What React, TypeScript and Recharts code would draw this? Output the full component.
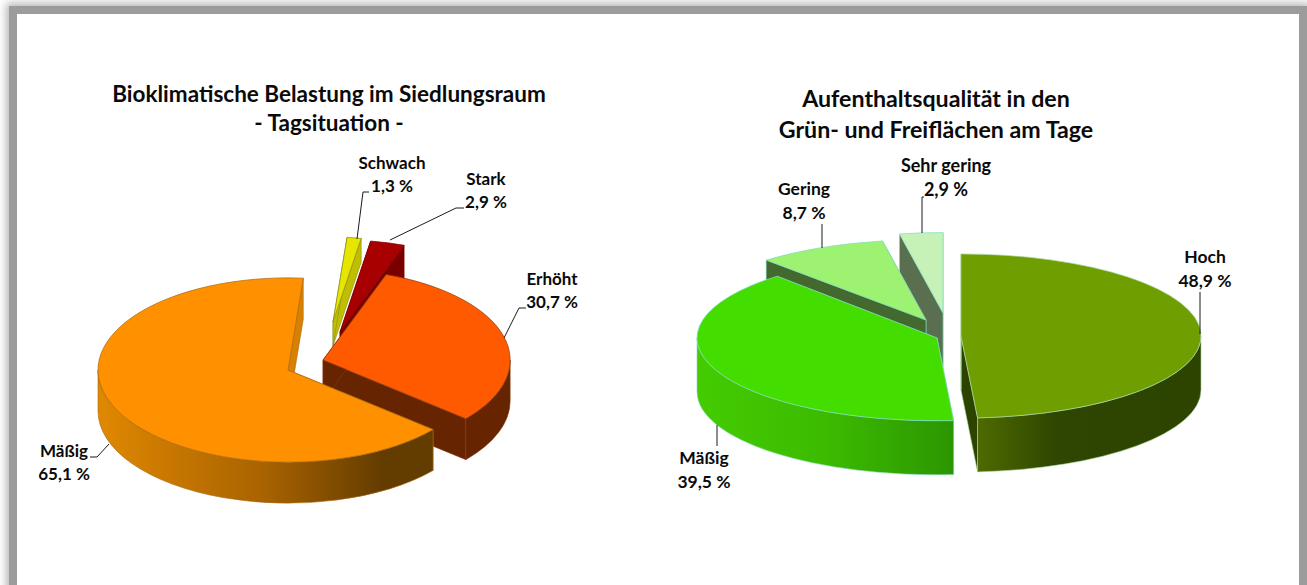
import React from "react";
import { PieChart, Pie } from "recharts";

const climateNames = ["Schwach", "Stark", "Erhöht", "Mäßig"];
const climateValues = [1.3, 2.9, 30.7, 65.1];
const qualityNames = ["Sehr gering", "Gering", "Mäßig", "Hoch"];
const qualityValues = [2.9, 8.7, 39.5, 48.9];

const climateTitle = ["Bioklimatische Belastung im Siedlungsraum", "- Tagsituation -"];
const qualityTitle = ["Aufenthaltsqualität in den", "Grün- und Freiflächen am Tage"];

const FONT = "Lato, 'Open Sans', sans-serif";

type Look = {
  top: string; wall: string; rim: [string, string][]; stroke: string;
  dx: number; dy: number; depth: number; tilt: number; scale: number; size: number;
  lines: string; textX: number; textY: number;
};

const looks: Record<string, Look> = {
  "L:Schwach": { top: "#E6E600", wall: "#BFBF00", rim: [["0", "#BFBF00"], ["1", "#BFBF00"]], stroke: "#8a8a20", dx: 45, dy: -48, depth: 24, tilt: 0.485, scale: 0.92, size: 17, lines: "357,239 363,192 369,192", textX: 392, textY: 163 },
  "L:Stark": { top: "#A80000", wall: "#7A0000", rim: [["0", "#7A0000"], ["1", "#7A0000"]], stroke: "#7A0000", dx: 52, dy: -38, depth: 40, tilt: 0.485, scale: 1, size: 17, lines: "390,240 456,208 464,208", textX: 486, textY: 179 },
  "L:Erhöht": { top: "#FF5A00", wall: "#662400", rim: [["0", "#662400"], ["1", "#662400"]], stroke: "#8a3a10", dx: 35, dy: -10, depth: 41, tilt: 0.485, scale: 0.985, size: 17, lines: "504,338 519,308 526,308", textX: 552, textY: 279 },
  "L:Mäßig": { top: "#FF9000", wall: "#D98000", rim: [["0", "#E08800"], ["0.5", "#A86200"], ["0.85", "#633C00"], ["1", "#633C00"]], stroke: "#a86a10", dx: 0, dy: 0, depth: 41, tilt: 0.485, scale: 1, size: 17, lines: "109,444 97,457 90,457", textX: 64, textY: 451 },
  "R:Sehr gering": { top: "#C6F2B8", wall: "#5A6F50", rim: [["0", "#5A6F50"], ["1", "#5A6F50"]], stroke: "#7FDCC0", dx: 6, dy: -25, depth: 54, tilt: 0.335, scale: 1, size: 18, lines: "922,233 922,197 924,197", textX: 946, textY: 166 },
  "R:Gering": { top: "#9EF272", wall: "#44692E", rim: [["0", "#44692E"], ["1", "#44692E"]], stroke: "#7FDCC0", dx: -11, dy: -18, depth: 54, tilt: 0.335, scale: 1, size: 17.5, lines: "822,248 822,224", textX: 804, textY: 189 },
  "R:Mäßig": { top: "#44DD00", wall: "#3CC400", rim: [["0", "#44CC00"], ["0.5", "#3CBB00"], ["1", "#2C9600"]], stroke: "#7FDCC0", dx: 0, dy: 0, depth: 54, tilt: 0.345, scale: 1, size: 17.5, lines: "717,425 717,446", textX: 704, textY: 458 },
  "R:Hoch": { top: "#6E9E00", wall: "#2C4400", rim: [["0", "#4F6A00"], ["0.35", "#2E4600"], ["1", "#2C4400"]], stroke: "#A8D8A0", dx: 24, dy: -2, depth: 54, tilt: 0.342, scale: 1, size: 17.5, lines: "1200,334 1200,292", textX: 1205, textY: 257 },
};

const rad = (a: number) => (a * Math.PI) / 180;

function Slice3D(side: string) {
  return function Shape(props: any) {
    const name = props.name ?? props.payload?.name;
    const look = looks[`${side}:${name}`];
    const rx = props.outerRadius * look.scale;
    const ry = rx * look.tilt;
    const cx = props.cx + look.dx;
    const cy = props.cy + look.dy;
    const a0 = Math.min(props.startAngle, props.endAngle);
    const a1 = Math.max(props.startAngle, props.endAngle);
    const px = (a: number) => cx + rx * Math.cos(rad(a));
    const py = (a: number) => cy - ry * Math.sin(rad(a));
    const d = look.depth;
    const id = `rim-${side}-${props.index ?? name}`.replace(/\s/g, "");

    const top = `M${cx},${cy} L${px(a0)},${py(a0)} A${rx},${ry} 0 ${a1 - a0 > 180 ? 1 : 0} 0 ${px(a1)},${py(a1)} Z`;
    const wall = (a: number) =>
      `M${cx},${cy} L${px(a)},${py(a)} L${px(a)},${py(a) + d} L${cx},${cy + d} Z`;

    const rims: string[] = [];
    for (const k of [-720, -360, 0, 360]) {
      const s = Math.max(a0, 180 + k);
      const e = Math.min(a1, 360 + k);
      if (e > s) {
        const large = e - s > 180 ? 1 : 0;
        rims.push(
          `M${px(s)},${py(s)} A${rx},${ry} 0 ${large} 0 ${px(e)},${py(e)} L${px(e)},${py(e) + d} A${rx},${ry} 0 ${large} 1 ${px(s)},${py(s) + d} Z`
        );
      }
    }
    return (
      <g>
        <defs>
          <linearGradient id={id} x1="0" x2="1" y1="0" y2="0">
            {look.rim.map(([o, c]) => (
              <stop key={o} offset={o} stopColor={c} />
            ))}
          </linearGradient>
        </defs>
        <path d={wall(a0)} fill={look.wall} stroke={look.stroke} strokeWidth={0.6} />
        <path d={wall(a1)} fill={look.wall} stroke={look.stroke} strokeWidth={0.6} />
        {rims.map((r, i) => (
          <path key={i} d={r} fill={`url(#${id})`} stroke={look.stroke} strokeWidth={0.6} />
        ))}
        <path d={top} fill={look.top} stroke={look.stroke} strokeWidth={0.7} />
      </g>
    );
  };
}

function SliceLabel(side: string) {
  return function Label(props: any) {
    const name = props.name ?? props.payload?.name;
    const value = props.value ?? props.payload?.value;
    const look = looks[`${side}:${name}`];
    const txt = `${String(value).replace(".", ",")} %`;
    return (
      <g>
        <polyline points={look.lines} fill="none" stroke="#1a1a1a" strokeWidth={1} />
        <text x={look.textX} y={look.textY} dy="0.35em" textAnchor="middle" fontFamily={FONT} fontWeight={700} fontSize={look.size} fill="#0a0a0a">{name}</text>
        <text x={look.textX} y={look.textY + 23.5} dy="0.35em" textAnchor="middle" fontFamily={FONT} fontWeight={700} fontSize={look.size} fill="#0a0a0a">{txt}</text>
      </g>
    );
  };
}

const climateData = climateNames.map((name, i) => ({ name, value: climateValues[i] }));
const qualityData = qualityNames.map((name, i) => ({ name, value: qualityValues[i] }));

const Title = ({ text, x, y, size }: { text: string; x: number; y: number; size: number }) => (
  <div style={{ position: "absolute", left: x - 300, top: y - 20, width: 600, height: 40, lineHeight: "40px", textAlign: "center", fontFamily: FONT, fontWeight: 700, fontSize: size, color: "#0a0a0a", whiteSpace: "nowrap" }}>
    {text}
  </div>
);

export default function App() {
  return (
    <div style={{ position: "fixed", left: 0, top: 0, width: 1307, height: 585, overflow: "hidden", background: "#fff" }}>
      <div style={{ position: "absolute", left: 17, top: 14, width: 1282, height: 620, background: "#fff", boxShadow: "0 0 0 8px #9c9c9c, 0 0 8px 11px #b8b8b8" }} />
      <div style={{ position: "absolute", left: 0, top: 0 }}>
        <PieChart width={1307} height={585} margin={{ top: 0, right: 0, bottom: 0, left: 0 }}>
          <Pie
            data={climateData}
            dataKey="value"
            nameKey="name"
            cx={288}
            cy={370}
            outerRadius={190}
            startAngle={85.4}
            endAngle={-274.6}
            stroke="none"
            isAnimationActive={false}
            shape={Slice3D("L")}
            label={SliceLabel("L")}
            labelLine={false}
          />
          <Pie
            data={qualityData}
            dataKey="value"
            nameKey="name"
            cx={937}
            cy={338}
            outerRadius={240}
            startAngle={90}
            endAngle={450}
            stroke="none"
            isAnimationActive={false}
            shape={Slice3D("R")}
            label={SliceLabel("R")}
            labelLine={false}
          />
        </PieChart>
      </div>
      <Title text={climateTitle[0]} x={329} y={94} size={22.5} />
      <Title text={climateTitle[1]} x={329} y={123} size={22.5} />
      <Title text={qualityTitle[0]} x={936} y={98} size={23.2} />
      <Title text={qualityTitle[1]} x={936} y={129} size={23.2} />
    </div>
  );
}
